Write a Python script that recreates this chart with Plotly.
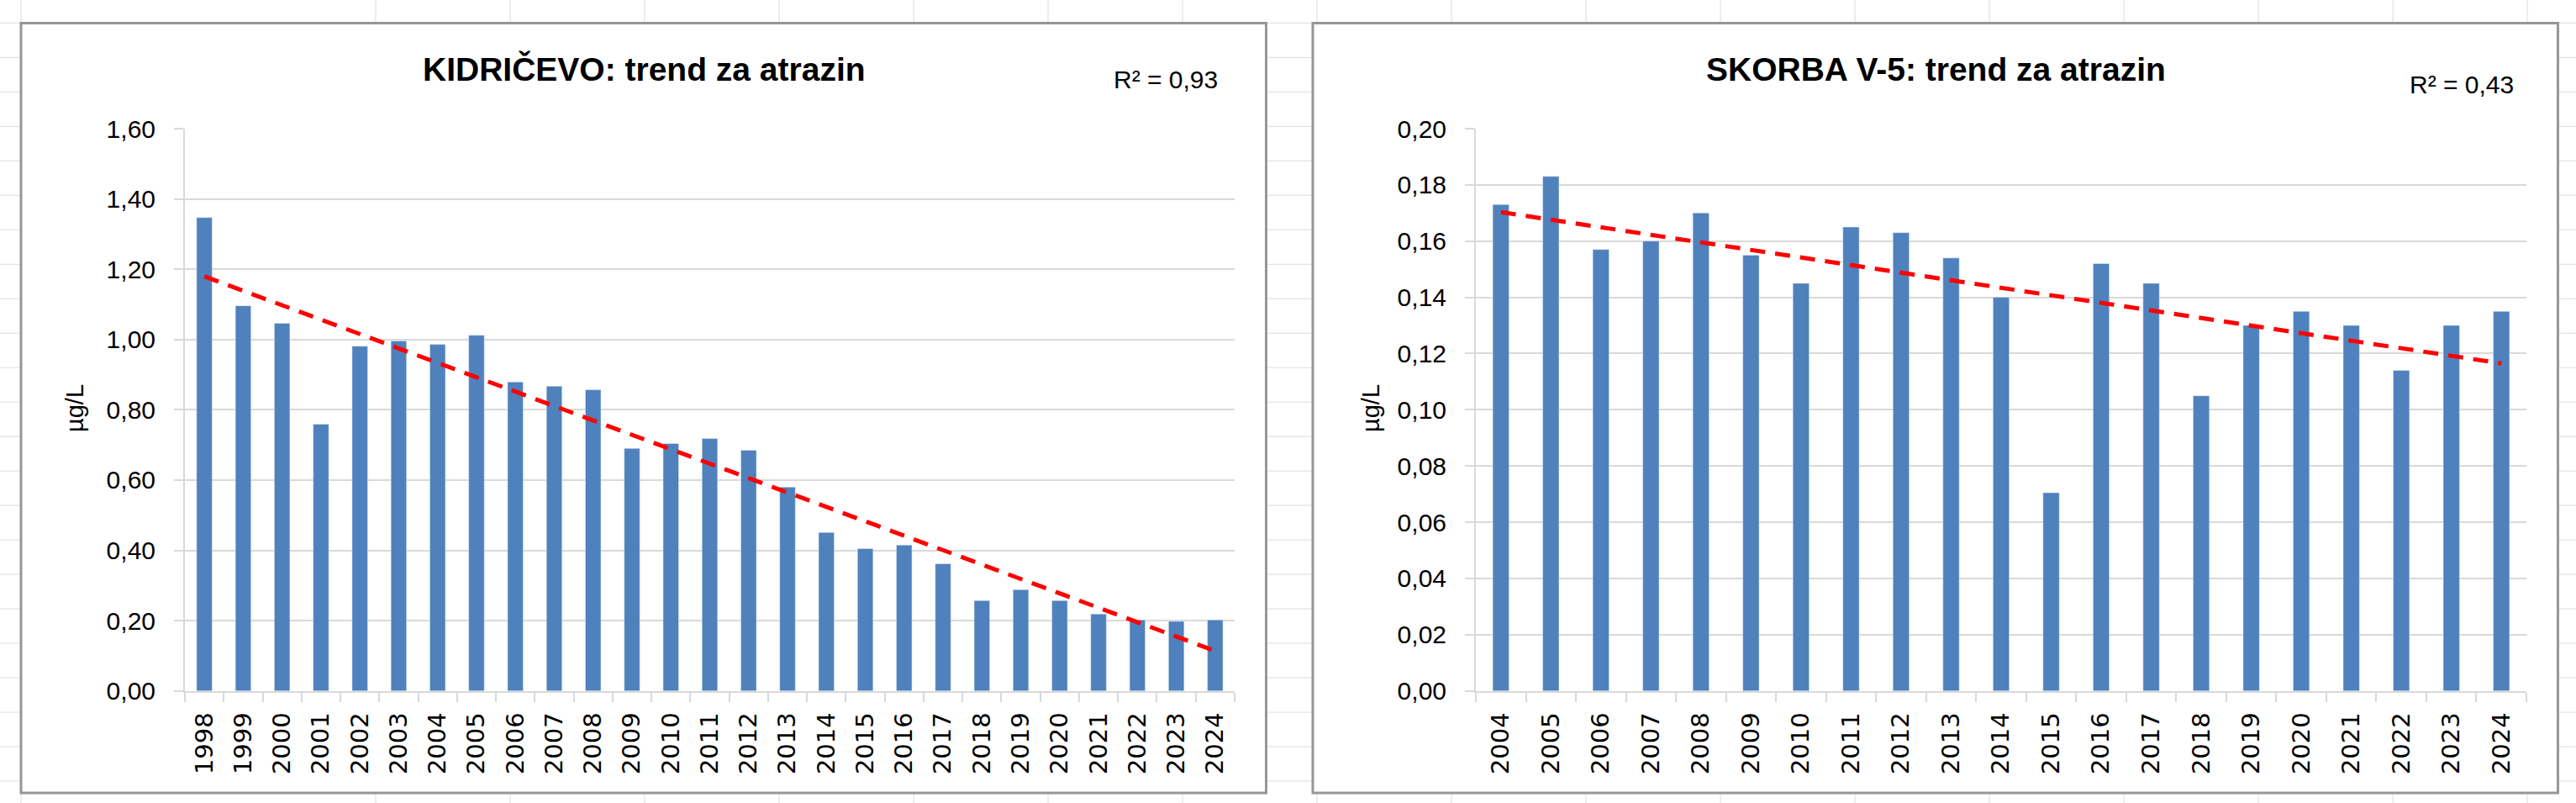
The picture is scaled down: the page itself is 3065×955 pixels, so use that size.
import numpy as np
import plotly.graph_objects as go

# ---------------- data ----------------
kid_years = [str(y) for y in range(1998, 2025)]
kid_values = [1.347, 1.096, 1.046, 0.759, 0.981, 0.996, 0.986, 1.012, 0.879, 0.867,
              0.857, 0.690, 0.704, 0.718, 0.685, 0.580, 0.451, 0.405, 0.415, 0.362,
              0.257, 0.288, 0.257, 0.219, 0.202, 0.198, 0.202]
kid_title = "KIDRIČEVO: trend za atrazin"
kid_r2 = "R² = 0,93"

sko_years = [str(y) for y in range(2004, 2025)]
sko_values = [0.173, 0.183, 0.157, 0.160, 0.170, 0.155, 0.145, 0.165, 0.163, 0.154,
              0.140, 0.0705, 0.152, 0.145, 0.105, 0.130, 0.135, 0.130, 0.114, 0.130,
              0.135]
sko_title = "SKORBA V-5: trend za atrazin"
sko_r2 = "R² = 0,43"

y_title = "µg/L"

# ---------------- helpers ----------------
W, H = 3065, 955


def px(x):
    return x / W


def py(y):
    return 1 - y / H


def trend(vals):
    idx = np.arange(len(vals))
    k, b = np.polyfit(idx, np.array(vals, dtype=float), 1)
    return list(k * idx + b)


BLUE = "#4F81BD"
GRID = "#d9d9d9"
FONT = "Liberation Sans"

fig = go.Figure()

fig.add_trace(go.Bar(x=kid_years, y=kid_values, marker_color=BLUE, width=0.4,
                     xaxis="x", yaxis="y", showlegend=False))
fig.add_trace(go.Scatter(x=kid_years, y=trend(kid_values), mode="lines",
                         line=dict(color="#ff0000", width=5, dash="18px,12px"),
                         xaxis="x", yaxis="y", showlegend=False))
fig.add_trace(go.Bar(x=sko_years, y=sko_values, marker_color=BLUE, width=0.325,
                     xaxis="x2", yaxis="y2", showlegend=False))
fig.add_trace(go.Scatter(x=sko_years, y=trend(sko_values), mode="lines",
                         line=dict(color="#ff0000", width=5, dash="18px,12px"),
                         xaxis="x2", yaxis="y2", showlegend=False))

ydom = [py(821.7), py(153)]


def xax(dom, anchor):
    return dict(domain=dom, anchor=anchor, type="category", tickson="boundaries",
                ticks="outside", ticklen=11, tickwidth=2, tickcolor=GRID,
                showline=True, linecolor=GRID, linewidth=2, showgrid=False,
                tickangle=-90, ticklabelstandoff=12, automargin=False,
                tickfont=dict(family="DejaVu Sans", size=29, color="black"),
                fixedrange=True)


def yax(dom, anchor, rng, dt):
    return dict(domain=dom, anchor=anchor, range=rng, dtick=dt, tick0=0,
                tickformat=".2f", showgrid=True, gridcolor=GRID, gridwidth=2,
                showline=True, linecolor=GRID, linewidth=2, zeroline=False,
                ticks="outside", ticklen=11, tickwidth=2, tickcolor=GRID,
                ticklabelstandoff=16, automargin=False,
                tickfont=dict(family=FONT, size=30, color="black"),
                fixedrange=True)


# spreadsheet cell lines behind the charts
shapes = []
for k in range(23):
    yy = 27.4 + 40.98 * k
    shapes.append(dict(type="line", xref="paper", yref="paper", x0=0, x1=1,
                       y0=py(yy), y1=py(yy), line=dict(color="#dcdcdc", width=1),
                       layer="below"))
for xx in [25] + [447 + 160 * k for k in range(17)]:
    shapes.append(dict(type="line", xref="paper", yref="paper", x0=px(xx), x1=px(xx),
                       y0=0, y1=1, line=dict(color="#dcdcdc", width=1),
                       layer="below"))
# chart frames
for x0, x1 in [(25, 1506.5), (1562, 3043.5)]:
    shapes.append(dict(type="rect", xref="paper", yref="paper", x0=px(x0), x1=px(x1),
                       y0=py(943), y1=py(27.4), fillcolor="white",
                       line=dict(color="#969696", width=3), layer="below"))

annotations = [
    dict(text="<b>" + kid_title + "</b>", x=px(766), y=py(82), xref="paper", yref="paper",
         xanchor="center", yanchor="middle", showarrow=False,
         font=dict(family=FONT, size=39, color="black")),
    dict(text="<b>" + sko_title + "</b>", x=px(2303), y=py(82), xref="paper", yref="paper",
         xanchor="center", yanchor="middle", showarrow=False,
         font=dict(family=FONT, size=39, color="black")),
    dict(text=kid_r2, x=px(1451), y=py(95), xref="paper", yref="paper",
         xanchor="right", yanchor="middle", showarrow=False,
         font=dict(family=FONT, size=30, color="black")),
    dict(text=sko_r2, x=px(2993), y=py(101), xref="paper", yref="paper",
         xanchor="right", yanchor="middle", showarrow=False,
         font=dict(family=FONT, size=30, color="black")),
    dict(text=y_title, x=px(89), y=py(486), xref="paper", yref="paper", textangle=-90,
         xanchor="center", yanchor="middle", showarrow=False,
         font=dict(family=FONT, size=29, color="black")),
    dict(text=y_title, x=px(1631), y=py(486), xref="paper", yref="paper", textangle=-90,
         xanchor="center", yanchor="middle", showarrow=False,
         font=dict(family=FONT, size=29, color="black")),
]

fig.update_layout(
    width=W, height=H, autosize=False,
    margin=dict(l=0, r=0, t=0, b=0, pad=0, autoexpand=False),
    paper_bgcolor="white", plot_bgcolor="rgba(0,0,0,0)",
    separators=", ",
    xaxis=xax([px(220), px(1469)], "y"),
    yaxis=yax(ydom, "x", [0, 1.6], 0.2),
    xaxis2=xax([px(1756), px(3006)], "y2"),
    yaxis2=yax(ydom, "x2", [0, 0.2], 0.02),
    shapes=shapes,
    annotations=annotations,
    showlegend=False,
    hovermode=False,
)

fig.write_html("out.html", config={"displayModeBar": False, "staticPlot": True},
               post_script="document.body.style.margin='0px';document.body.style.overflow='hidden';")
